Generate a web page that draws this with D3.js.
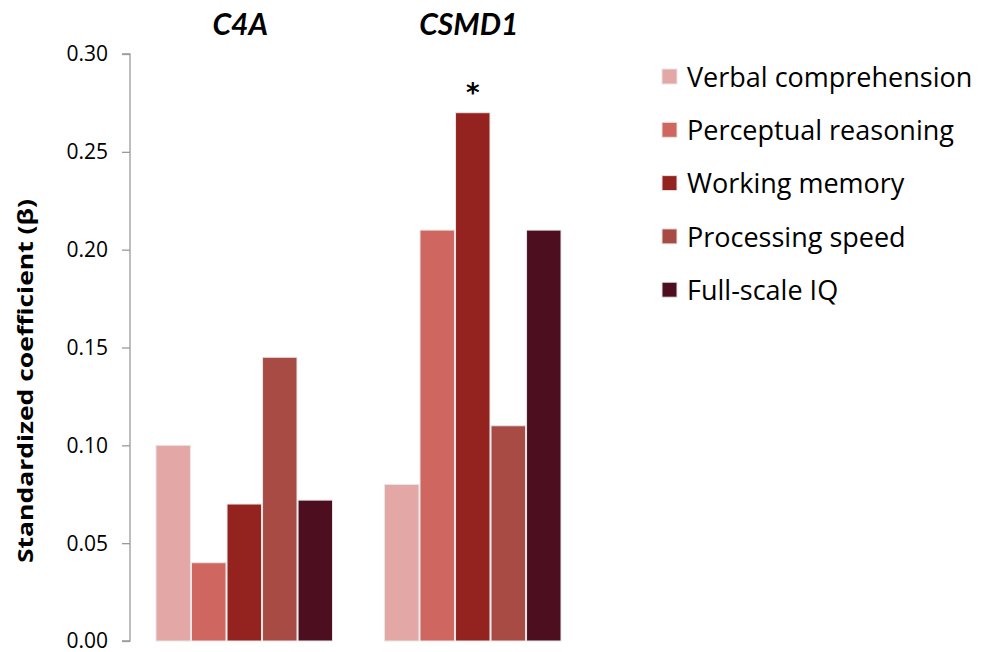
<!DOCTYPE html>
<html lang="en">
<head>
    <meta charset="UTF-8">
    <script src="https://cdn.jsdelivr.net/npm/d3@7"></script>
    <title>C4A / CSMD1</title>
    <style>
        body { margin: 0; background: white; }
        text { font-family: Lato, "Open Sans", sans-serif; fill: #000; }
        .bar { stroke: #e6e6e6; stroke-width: 1px; }
    </style>
</head>
<body>
    <div class="fig"></div>
    <script>
        const genes = ["C4A", "CSMD1"];
        const measures = ["Verbal comprehension", "Perceptual reasoning", "Working memory", "Processing speed", "Full-scale IQ"];
        const c4aValues = [0.100, 0.040, 0.070, 0.145, 0.072];
        const csmd1Values = [0.080, 0.210, 0.270, 0.110, 0.210];
        const yTicks = [0.00, 0.05, 0.10, 0.15, 0.20, 0.25, 0.30];
        const colours = ["#e3a8a5", "#cf665f", "#94231f", "#a74b44", "#4d0f1f"];
        const significant = [{ gene: "CSMD1", measure: "Working memory", label: "*" }];

        const width = 988, height = 652;
        const svg = d3.select(".fig").append("svg")
            .attr("width", width)
            .attr("height", height);

        const seriesByGene = { C4A: c4aValues, CSMD1: csmd1Values };
        const rows = [];
        genes.forEach(g => {
            seriesByGene[g].forEach((v, i) => rows.push({ gene: g, measure: measures[i], value: v }));
        });

        const x0 = d3.scaleBand().domain(genes).range([130, 587]).paddingInner(0).paddingOuter(0);
        const x1 = d3.scaleBand().domain(measures).range([26, x0.bandwidth() - 26]).paddingInner(0.03);
        const y = d3.scaleLinear().domain([0, 0.30]).range([641, 54]);
        const colour = d3.scaleOrdinal().domain(measures).range(colours);

        // y axis
        const yAxis = svg.append("g")
            .attr("transform", "translate(130,0)")
            .call(d3.axisLeft(y).tickValues(yTicks).tickFormat(d3.format(".2f")).tickSize(8).tickPadding(14));
        yAxis.selectAll("line, path").attr("stroke", "#9a9a9a").attr("stroke-width", 1.3);
        yAxis.select(".domain").attr("d", `M-8,${y(0.30)}H0V${y(0)}H-8`);
        yAxis.selectAll(".tick text")
            .style("font-family", "'Open Sans', sans-serif")
            .style("font-size", "21px")
            .attr("dy", "0.33em");

        svg.append("text")
            .attr("transform", `translate(33,381) rotate(-90)`)
            .attr("text-anchor", "middle")
            .attr("textLength", 364)
            .attr("lengthAdjust", "spacingAndGlyphs")
            .style("font-family", "'Open Sans', sans-serif")
            .style("font-size", "22px")
            .style("font-weight", "bold")
            .text("Standardized coefficient (β)");

        // bars
        svg.append("g").selectAll("rect")
            .data(rows)
            .enter()
            .append("rect")
            .attr("class", "bar")
            .attr("x", d => x0(d.gene) + x1(d.measure))
            .attr("width", x1.bandwidth())
            .attr("y", d => y(d.value))
            .attr("height", d => y(0) - y(d.value))
            .attr("fill", d => colour(d.measure));

        // gene titles
        svg.append("g").selectAll("text")
            .data(genes)
            .enter()
            .append("text")
            .attr("x", d => x0(d) + x0.bandwidth() / 2 - 4)
            .attr("y", 35)
            .attr("text-anchor", "middle")
            .style("font-size", "30px")
            .style("font-weight", "bold")
            .style("font-style", "italic")
            .text(d => d);

        // significance
        svg.append("g").selectAll("text")
            .data(significant)
            .enter()
            .append("text")
            .attr("x", d => x0(d.gene) + x1(d.measure) + x1.bandwidth() / 2)
            .attr("y", d => y(seriesByGene[d.gene][measures.indexOf(d.measure)]) + 13)
            .attr("text-anchor", "middle")
            .style("font-family", "'DejaVu Sans', sans-serif")
            .style("font-size", "26px")
            .style("font-weight", "bold")
            .text(d => d.label)
            .attr("dy", "-0.9em");

        // legend
        const legend = svg.append("g").attr("transform", "translate(662,77)");
        const item = legend.selectAll("g")
            .data(measures)
            .enter()
            .append("g")
            .attr("transform", (d, i) => `translate(0,${i * 53.3})`);
        item.append("rect")
            .attr("x", 0).attr("y", -8)
            .attr("width", 15).attr("height", 15)
            .attr("fill", d => colour(d))
            .attr("stroke", "#e6e6e6");
        item.append("text")
            .attr("x", 25)
            .attr("y", 0)
            .attr("dy", "0.36em")
            .style("font-family", "'Open Sans', sans-serif")
            .style("font-size", "27px")
            .text(d => d);
    </script>
</body>
</html>
